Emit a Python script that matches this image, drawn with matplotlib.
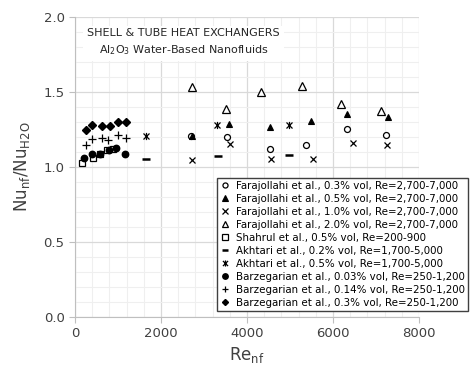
import matplotlib
matplotlib.use("Agg")
import matplotlib.pyplot as plt
from matplotlib.path import Path
from matplotlib.ticker import MultipleLocator

# data
far03_re = [2700, 3540, 4540, 5370, 6330, 7230]
far03_nu = [1.21, 1.20, 1.12, 1.15, 1.255, 1.215]
far05_re = [2720, 3570, 4540, 5490, 6330, 7290]
far05_nu = [1.21, 1.29, 1.265, 1.31, 1.355, 1.335]
far10_re = [2710, 3610, 4560, 5540, 6460, 7260]
far10_nu = [1.045, 1.155, 1.055, 1.055, 1.16, 1.145]
far20_re = [2720, 3500, 4330, 5270, 6180, 7110]
far20_nu = [1.535, 1.39, 1.50, 1.54, 1.42, 1.375]
shahrul_re = [170, 420, 590, 750, 890]
shahrul_nu = [1.03, 1.06, 1.09, 1.11, 1.12]
akh02_re = [1650, 3330, 4980]
akh02_nu = [1.055, 1.075, 1.08]
akh05_re = [1650, 3300, 4980]
akh05_nu = [1.21, 1.28, 1.28]
bar003_re = [220, 390, 580, 780, 960, 1170]
bar003_nu = [1.057, 1.085, 1.09, 1.115, 1.13, 1.087]
bar014_re = [250, 400, 620, 775, 990, 1190]
bar014_nu = [1.15, 1.19, 1.195, 1.18, 1.215, 1.195]
bar03_re = [250, 400, 620, 810, 990, 1180]
bar03_nu = [1.25, 1.28, 1.275, 1.275, 1.30, 1.30]

labels = [
    "Farajollahi et al., 0.3% vol, Re=2,700-7,000",
    "Farajollahi et al., 0.5% vol, Re=2,700-7,000",
    "Farajollahi et al., 1.0% vol, Re=2,700-7,000",
    "Farajollahi et al., 2.0% vol, Re=2,700-7,000",
    "Shahrul et al., 0.5% vol, Re=200-900",
    "Akhtari et al., 0.2% vol, Re=1,700-5,000",
    "Akhtari et al., 0.5% vol, Re=1,700-5,000",
    "Barzegarian et al., 0.03% vol, Re=250-1,200",
    "Barzegarian et al., 0.14% vol, Re=250-1,200",
    "Barzegarian et al., 0.3% vol, Re=250-1,200",
]

# excel style star: an x with a vertical bar
star = Path([(-1, -1), (1, 1), (-1, 1), (1, -1), (0, -1.2), (0, 1.2)],
            [Path.MOVETO, Path.LINETO, Path.MOVETO, Path.LINETO, Path.MOVETO, Path.LINETO])

fig = plt.figure(figsize=(4.7, 3.69), dpi=100)
ax = fig.add_axes([75/470, 1-317/369, 344/470, 300/369])

kw = dict(linestyle="none", color="black")
ax.plot(far03_re, far03_nu, marker="o", ms=4.3, mfc="white", mew=0.9, label=labels[0], **kw)
ax.plot(far05_re, far05_nu, marker="^", ms=4.8, mfc="black", mew=0.8, label=labels[1], **kw)
ax.plot(far10_re, far10_nu, marker="x", ms=4.5, mew=0.9, label=labels[2], **kw)
ax.plot(far20_re, far20_nu, marker="^", ms=5.3, mfc="white", mew=0.9, label=labels[3], **kw)
ax.plot(shahrul_re, shahrul_nu, marker="s", ms=4.3, mfc="white", mew=0.9, label=labels[4], **kw)
ax.plot(akh02_re, akh02_nu, marker="_", ms=5.5, mew=1.8, label=labels[5], **kw)
ax.plot(akh05_re, akh05_nu, marker=star, ms=5.2, mew=0.9, label=labels[6], **kw)
ax.plot(bar003_re, bar003_nu, marker="o", ms=4.6, mfc="black", label=labels[7], **kw)
ax.plot(bar014_re, bar014_nu, marker="+", ms=5.2, mew=0.9, label=labels[8], **kw)
ax.plot(bar03_re, bar03_nu, marker="D", ms=3.6, mfc="black", label=labels[9], **kw)

ax.set_xlim(0, 8000)
ax.set_ylim(0, 2.0)
ax.xaxis.set_major_locator(MultipleLocator(2000))
ax.xaxis.set_minor_locator(MultipleLocator(400))
ax.yaxis.set_major_locator(MultipleLocator(0.5))
ax.yaxis.set_minor_locator(MultipleLocator(0.1))
ax.yaxis.set_major_formatter(matplotlib.ticker.FormatStrFormatter("%.1f"))
ax.grid(which="major", color="#d9d9d9", lw=0.9)
ax.grid(which="minor", color="#efefef", lw=0.8)
ax.set_axisbelow(True)
for s in ["top", "right"]:
    ax.spines[s].set_visible(False)
for s in ["left", "bottom"]:
    ax.spines[s].set_color("#bfbfbf")
ax.tick_params(which="major", length=4, color="#bfbfbf", labelsize=9.5, labelcolor="#404040")
ax.tick_params(which="minor", length=0)

ax.set_xlabel("Re$_{\\mathregular{nf}}$", fontsize=12, color="#404040", labelpad=3)
ax.set_ylabel("Nu$_{\\mathregular{nf}}$/Nu$_{\\mathregular{H2O}}$", fontsize=12, color="#404040", labelpad=8)

ax.text(2530, 1.83, "SHELL & TUBE HEAT EXCHANGERS\nAl$_{\\mathregular{2}}$O$_{\\mathregular{3}}$ Water-Based Nanofluids",
        ha="center", va="center", fontsize=8, color="#262626", linespacing=1.5,
        bbox=dict(facecolor="white", edgecolor="none", pad=3))

fig.legend(loc="upper left", bbox_to_anchor=(217/470, 1-178/369), fontsize=7.4,
           frameon=True, fancybox=False, edgecolor="#404040", framealpha=1,
           handlelength=0.9, handletextpad=0.6, labelspacing=0.29, markerscale=0.85,
           borderpad=0.3, borderaxespad=0)

fig.savefig("out.png", dpi=100)
